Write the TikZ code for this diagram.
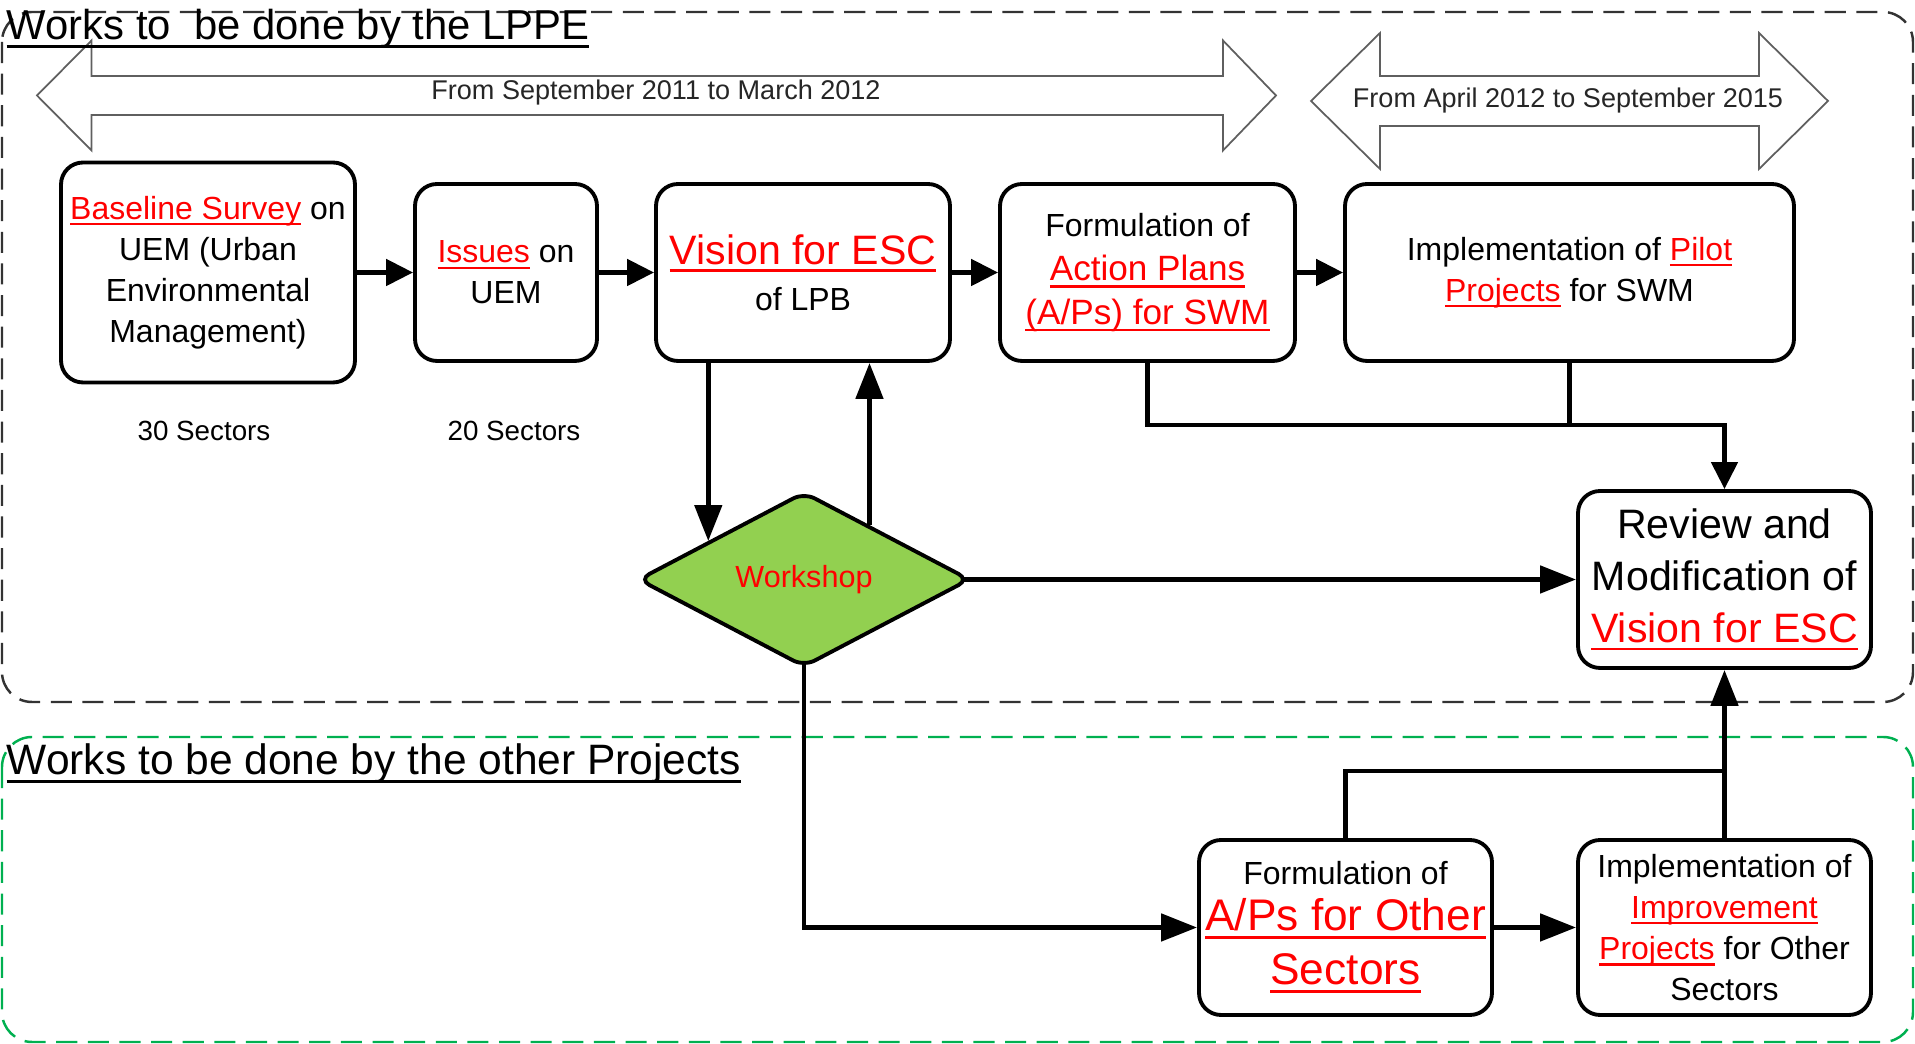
\documentclass[tikz,border=0pt]{standalone}
\usepackage{fontspec}
\setmainfont{Liberation Sans}
\usetikzlibrary{shapes.geometric,arrows.meta,calc}

\definecolor{mred}{RGB}{255,0,0}
\definecolor{leaf}{RGB}{146,208,80}
\definecolor{dashgreen}{RGB}{0,176,80}
\definecolor{arrowgray}{RGB}{95,95,95}

\newsavebox{\ulsave}
\newcommand{\ulbox}[1]{\sbox\ulsave{#1}\rlap{\rule[-0.19em]{\wd\ulsave}{0.065em}}\usebox\ulsave}
\newcommand{\redul}[1]{{\color{mred}\ulbox{#1}}}
\newcommand{\setfs}[2]{\fontsize{#1}{#2}\selectfont}
\normallineskiplimit=-20pt
\lineskiplimit=-20pt

\begin{document}
\begin{tikzpicture}[x=0.1cm,y=0.1cm,
  box/.style={draw,line width=1.1pt,rounded corners=0.22cm,align=center,inner sep=0pt,
    minimum width=2.94cm,minimum height=1.77cm,font={\setfs{9.1}{11.7}}},
  flow/.style={line width=1.4pt,-{Triangle[length=3.6mm,width=2.7mm]}},
  shortflow/.style={line width=1.4pt,-{Triangle[length=2.7mm,width=2.6mm]}},
  wire/.style={line width=1.4pt},
  period/.style={draw=arrowgray,line width=0.5pt},
  framebox/.style={dash pattern=on 6pt off 3pt,line width=0.7pt,rounded corners=0.3cm}
]
  \useasboundingbox (0,0) rectangle (191.5,-104.4);

  % the two working areas
  \draw [framebox,draw=black!80] (0.2,-1.2) rectangle (191.3,-70.2);
  \draw [framebox,draw=dashgreen] (0.2,-73.7) rectangle (191.3,-104.2);

  % periods
  \draw [period] (3.7,-9.55) -- (9.15,-4.05) -- (9.15,-7.6) -- (122.3,-7.6) -- (122.3,-4.05)
    -- (127.6,-9.55) -- (122.3,-15.05) -- (122.3,-11.5) -- (9.15,-11.5) -- (9.15,-15.05) -- cycle;
  \draw [period] (131.1,-10.1) -- (138.0,-3.3) -- (138.0,-7.6) -- (175.9,-7.6) -- (175.9,-3.3)
    -- (182.8,-10.1) -- (175.9,-16.9) -- (175.9,-12.6) -- (138.0,-12.6) -- (138.0,-16.9) -- cycle;
  \node (period1) at (65.6,-9.3) [font={\setfs{7.7}{9}},text=black!85] {From September 2011 to March 2012};
  \node (period2) at (156.8,-10.1) [font={\setfs{7.7}{9}},text=black!85] {From April 2012 to September 2015};

  % titles
  \node (lppe) at (0.6,-4.0) [anchor=base west,inner sep=0pt,font={\setfs{11.9}{14}}] {\ulbox{Works to\ \ be done by the LPPE}};
  \node (others) at (0.6,-77.5) [anchor=base west,inner sep=0pt,font={\setfs{12.1}{14}}] {\ulbox{Works to be done by the other Projects}};

  % LPPE steps
  \node (b1) at (20.8,-27.25) [box,minimum height=2.2cm] {\redul{Baseline Survey} on\\UEM (Urban\\Environmental\\Management)};
  \node (b2) at (50.6,-27.25) [box,minimum width=1.82cm] {\redul{Issues} on\\UEM};
  \node (b3) at (80.3,-27.25) [box] {{\setfs{11.7}{14}\redul{Vision for ESC}}\\[1.4pt]of LPB};
  \node (b4) at (114.75,-27.25) [box,minimum width=2.95cm] {Formulation of\\[0.9pt]{\setfs{10}{12}\redul{Action Plans}}\\[0.6pt]{\setfs{10}{12}\redul{(A/Ps) for SWM}}};
  \node (b5) at (156.95,-27.25) [box,minimum width=4.49cm] {Implementation of \redul{Pilot}\\\redul{Projects} for SWM};
  \node (b6) at (172.45,-57.95) [box,minimum width=2.93cm,font={\setfs{11.7}{14.8}}] {Review and\\Modification of\\\redul{Vision for ESC}};
  \node (workshop) at (80.4,-57.95) [diamond,draw,fill=leaf,line width=1.1pt,minimum width=3.32cm,
    minimum height=1.75cm,inner sep=0pt,rounded corners=0.12cm,text=mred,font={\setfs{8.7}{10}}] {Workshop};
  \node (s30) at (20.4,-43.1) [font={\setfs{7.9}{9}}] {30 Sectors};
  \node (s20) at (51.4,-43.1) [font={\setfs{7.9}{9}}] {20 Sectors};

  % other projects
  \node (b7) at (134.55,-92.75) [box,minimum width=2.93cm,minimum height=1.75cm,font={\setfs{12.6}{13.1}}] {{\setfs{9.1}{11}Formulation of}\\\redul{A/Ps for Other}\\[2.3pt]\redul{Sectors}};
  \node (b8) at (172.45,-92.75) [box,minimum width=2.93cm,minimum height=1.75cm] {Implementation of\\\redul{Improvement}\\\redul{Projects} for Other\\Sectors};

  % connectors
  \draw [shortflow] (b1.east) -- (b2.west);
  \draw [shortflow] (b2.east) -- (b3.west);
  \draw [shortflow] (b3.east) -- (b4.west);
  \draw [shortflow] (b4.east) -- (b5.west);
  \coordinate (wsIn) at ($(workshop.west)!0.43!(workshop.north)$);
  \coordinate (wsOut) at ($(workshop.north)!0.39!(workshop.east)$);
  \draw [flow] (b3.south -| wsIn) -- (wsIn);
  \draw [flow] (wsOut) -- (wsOut |- b3.south);
  \draw [flow] ([xshift=-1mm]workshop.east) -- (b6.west);
  \coordinate (joinTop) at (172.45,-42.5);
  \draw [shortflow] (b4.south) |- (joinTop) -- (b6.north);
  \draw [wire] (b5.south) -- (b5.south |- joinTop);
  \draw [flow] ([yshift=0.6mm]workshop.south) |- (b7.west);
  \draw [flow] (b7.east) -- (b8.west);
  \draw [flow] (b8.north) -- (b6.south);
  \coordinate (joinBot) at (172.45,-77.1);
  \draw [wire] (b7.north) |- (joinBot);
\end{tikzpicture}
\end{document}
